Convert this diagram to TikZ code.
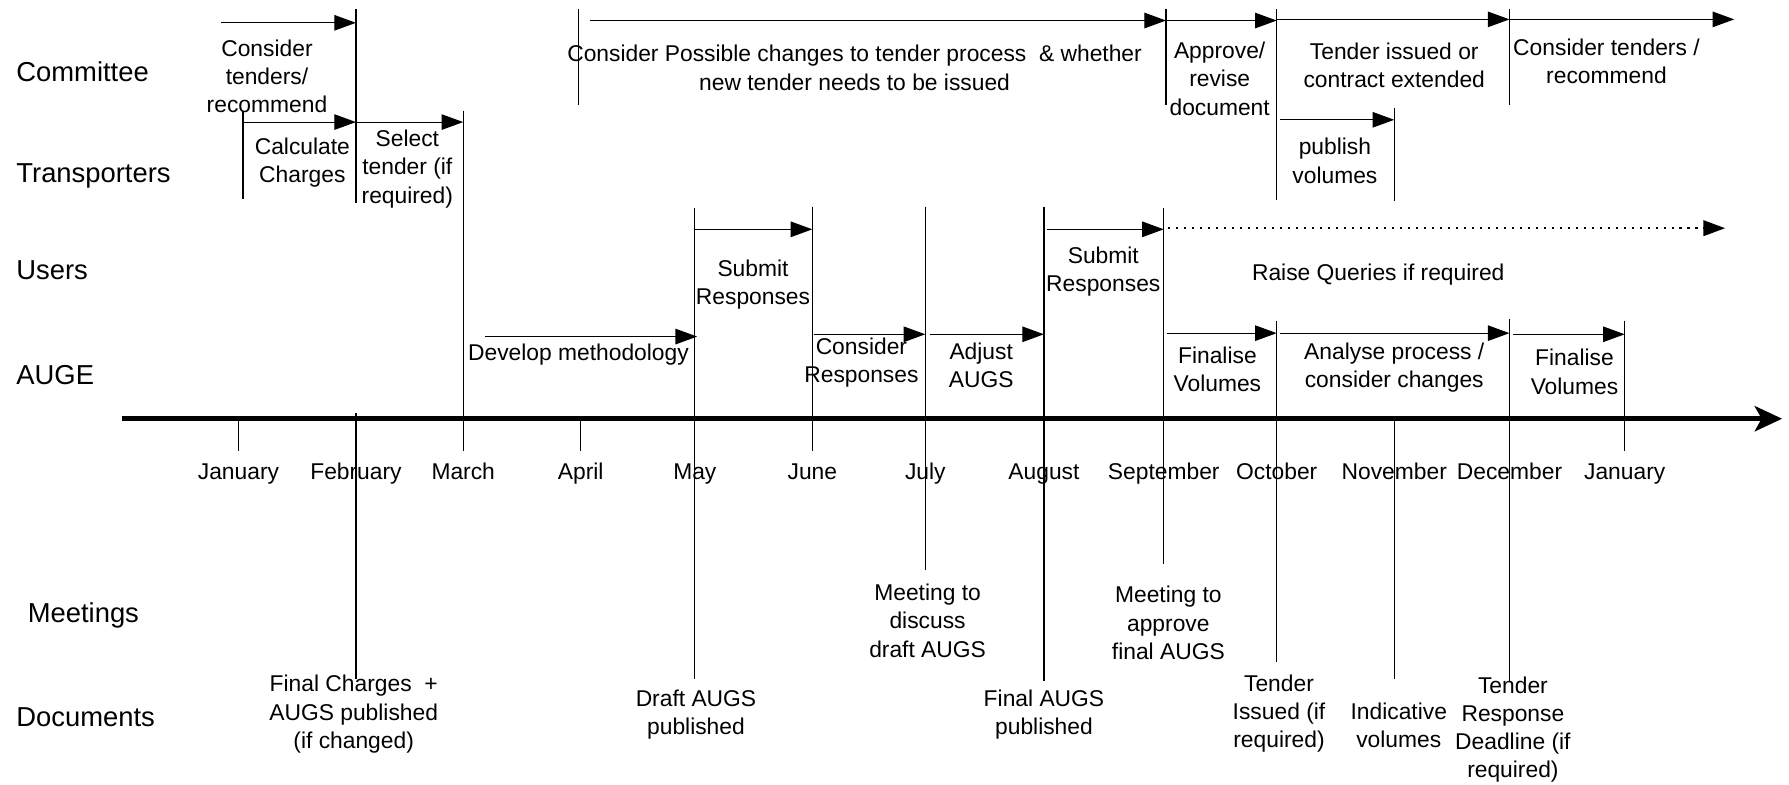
\documentclass[tikz,border=0pt]{standalone}
\usepackage{fontspec}
\setmainfont{Liberation Sans}
\usetikzlibrary{arrows.meta}
\begin{document}
\begin{tikzpicture}[x=0.5pt,y=-0.5pt,
  lbl/.style={font=\fontsize{10}{12.4}\selectfont, align=center, inner sep=0pt},
  monlbl/.style={font=\fontsize{10}{12.4}\selectfont, anchor=base, inner sep=0pt},
  rowlbl/.style={font=\fontsize{12}{14}\selectfont, anchor=base west, inner sep=0pt},
  bar/.style={line width=0.5pt},
  act/.style={line width=0.5pt, -{Triangle[length=9.5pt,width=6.8pt]}},
  dots/.style={line width=0.9pt, dash pattern=on 0.9pt off 2.6pt, -{Triangle[length=9.5pt,width=6.8pt]}},
  axisline/.style={line width=2.2pt, -{Stealth[length=12pt,width=11pt,inset=3pt]}},
]
\useasboundingbox (0,0) rectangle (1568,688);

% row labels
\node[rowlbl] (rCom) at (14,71.6) {Committee};
\node[rowlbl] (rTra) at (14,159.6) {Transporters};
\node[rowlbl] (rUse) at (14,244.6) {Users};
\node[rowlbl] (rAug) at (14,336.6) {AUGE};
\node[rowlbl] (rMee) at (24,545.6) {Meetings};
\node[rowlbl] (rDoc) at (14,636.6) {Documents};

% axis
\coordinate (ax0) at (107,367);
\coordinate (ax1) at (1562,367);
\draw[axisline] (ax0) -- (ax1);

% month labels
\foreach \n/\x/\m in {m1/209/January, m2/312/February, m3/406/March, m4/509/April,
  m5/609/May, m6/712/June, m7/811/July, m8/915/August, m9/1020/September,
  m10/1119/October, m11/1222/November, m12/1323/December, m13/1424/January}
  \node[monlbl] (\n) at (\x,420) {\m};

% vertical markers
\foreach \n/\x/\a/\b in {v1/213/97/174, v2/312/8/178, v3/312/362/595, v4/406/97/395,
  v5/507/8/92, v6/609/182/595, v7/712/181/395, v8/811/181/500, v9/915/181/597,
  v10/1020/182/494, v11/1022/8/92, v12/1119/8/175, v13/1119/281/580,
  v14/1222/95/176, v15/1222/367/595, v16/1323/8/92, v17/1323/280/598,
  v18/1424/281/395, v19/209/367/395, v20/509/367/395}
{
  \coordinate (\n t) at (\x,\a);
  \coordinate (\n b) at (\x,\b);
  \draw[bar] (\n t) -- (\n b);
}

% activity arrows
\foreach \n/\xa/\xb/\y in {a1/194/312/20, a2/517/1022/18, a3/1022/1119/18, a4/1119/1323/17,
  a5/1323/1520/17, b1/213/312/107, b2/312/406/107, b3/1122/1222/105,
  c1/609/712/201, c2/918/1020/201, d1/425/611/295, d2/713/811/293, d3/815/915/293,
  d4/1023/1119/292, d5/1122/1323/292, d6/1326/1424/293}
{
  \coordinate (\n s) at (\xa,\y);
  \coordinate (\n e) at (\xb,\y);
  \draw[act] (\n s) -- (\n e);
}
\coordinate (c3s) at (1024,200);
\coordinate (c3e) at (1512,200);
\draw[dots] (c3s) -- (c3e);

% activity labels
\node[lbl] (t1) at (234,67) {Consider\\tenders/\\recommend};
\node[lbl] (t2) at (749,59.5) {Consider Possible changes to tender process\ \ \& whether\\new tender needs to be issued};
\node[lbl] (t3) at (1069,69) {Approve/\\revise\\document};
\node[lbl] (t4) at (1222,57) {Tender issued or\\contract extended};
\node[lbl] (t5) at (1408,54) {Consider tenders /\\recommend};
\node[lbl] (t6) at (265,142.5) {Calculate\\Charges};
\node[lbl] (t7) at (357,148) {Select\\tender (if\\required)};
\node[lbl] (t8) at (1170,141) {publish\\volumes};
\node[lbl] (t9) at (660,249.5) {Submit\\Responses};
\node[lbl] (t10) at (967,238) {Submit\\Responses};
\node[lbl] (t11) at (1208,241) {Raise Queries if required};
\node[lbl] (t12) at (507,311) {Develop methodology};
\node[lbl] (t13) at (755,318) {Consider\\Responses};
\node[lbl] (t14) at (860,320) {Adjust\\AUGS};
\node[lbl] (t15) at (1067,323.5) {Finalise\\Volumes};
\node[lbl] (t16) at (1222,322) {Analyse process /\\consider changes};
\node[lbl] (t17) at (1380,326) {Finalise\\Volumes};

% meetings
\node[lbl] (g1) at (813,544) {Meeting to\\discuss\\draft AUGS};
\node[lbl] (g2) at (1024,546) {Meeting to\\approve\\final AUGS};

% documents
\node[lbl] (d1) at (310,626) {Final Charges\ \ +\\AUGS published\\(if changed)};
\node[lbl] (d2) at (610,626.5) {Draft AUGS\\published};
\node[lbl] (d3) at (915,626.5) {Final AUGS\\published};
\node[lbl] (d4) at (1121,625.5) {Tender\\Issued (if\\required)};
\node[lbl] (d5) at (1226,636) {Indicative\\volumes};
\node[lbl] (d6) at (1326,639.5) {Tender\\Response\\Deadline (if\\required)};
\end{tikzpicture}
\end{document}
